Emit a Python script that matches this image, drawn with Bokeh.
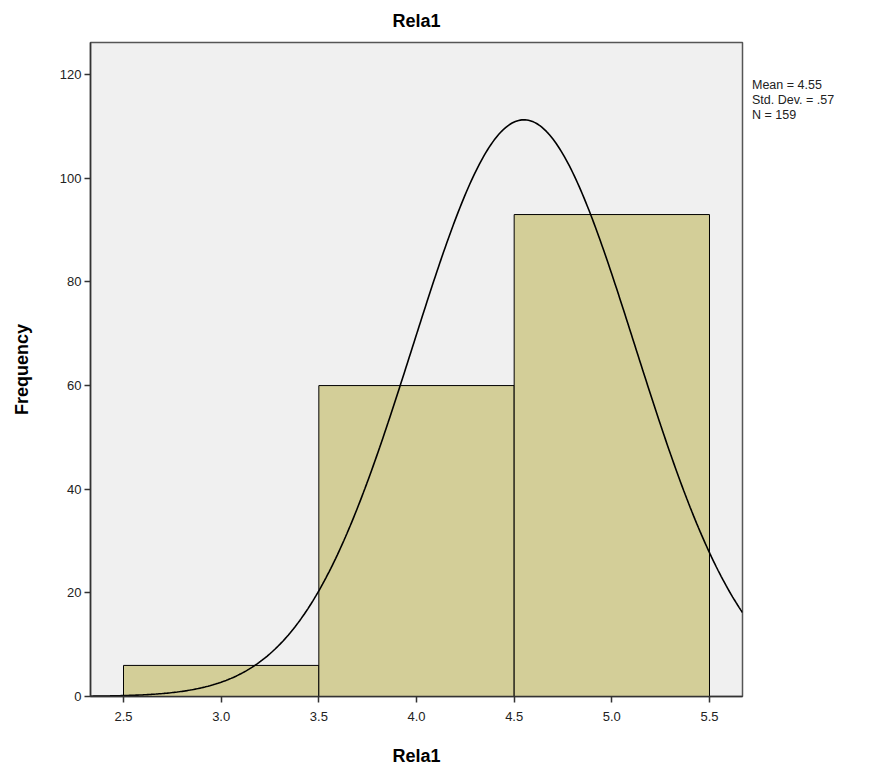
import numpy as np
from bokeh.plotting import figure
from bokeh.models import Range1d, FixedTicker, PrintfTickFormatter, Legend, LegendItem
from bokeh.embed import file_html
from bokeh.resources import INLINE

# data
bin_left = [2.5, 3.5, 4.5]
bin_right = [3.5, 4.5, 5.5]
counts = [6, 60, 93]
x_ticks = [2.5, 3.0, 3.5, 4.0, 4.5, 5.0, 5.5]
y_ticks = [0, 20, 40, 60, 80, 100, 120]
mean_val = 4.55
sd_val = 0.57
n_val = 159
bin_width = 1.0
stats = ["Mean = 4.55", "Std. Dev. = .57", "N = 159"]

X0, X1 = 2.331, 5.669
Y0, Y1 = 0, 126.2

p = figure(width=871, height=771, frame_width=652, frame_height=654,
           output_backend="svg", toolbar_location=None,
           x_range=Range1d(X0, X1), y_range=Range1d(Y0, Y1),
           min_border_left=90, min_border_right=129, min_border_top=42, min_border_bottom=75)

p.background_fill_color = "#f0f0f0"
p.border_fill_color = "white"
p.outline_line_color = "#555555"
p.outline_line_width = 1.5
p.xgrid.visible = False
p.ygrid.visible = False

p.quad(left=bin_left, right=bin_right, bottom=0, top=counts,
       fill_color="#d3ce98", line_color="black", line_width=1)

xs = np.linspace(X0, X1, 400)
ys = n_val * bin_width * np.exp(-0.5 * ((xs - mean_val) / sd_val) ** 2) / (sd_val * np.sqrt(2 * np.pi))
p.line(xs, ys, line_color="black", line_width=1.6)

font = "Liberation Sans"
p.title.text = "Rela1"
p.title.align = "center"
p.title.vertical_align = "top"
p.title.text_font = font
p.title.text_font_size = "18px"
p.title.text_font_style = "bold"
p.title.text_color = "black"
p.title.standoff = 19

for ax in (p.xaxis[0], p.yaxis[0]):
    ax.axis_line_color = "#333333"
    ax.axis_line_width = 1.5
    ax.major_tick_out = 6
    ax.major_tick_in = 0
    ax.minor_tick_line_color = None
    ax.major_tick_line_color = "#333333"
    ax.major_tick_line_width = 1.5
    ax.major_label_text_font = font
    ax.major_label_text_font_size = "13px"
    ax.major_label_text_color = "#222222"
    ax.axis_label_text_font = font
    ax.axis_label_text_font_size = "18px"
    ax.axis_label_text_font_style = "bold"
    ax.axis_label_text_color = "black"

p.xaxis[0].ticker = FixedTicker(ticks=x_ticks)
p.xaxis[0].formatter = PrintfTickFormatter(format="%.1f")
p.yaxis[0].ticker = FixedTicker(ticks=y_ticks)
p.xaxis[0].axis_label = "Rela1"
p.yaxis[0].axis_label = "Frequency"
p.xaxis[0].major_label_standoff = 9
p.xaxis[0].axis_label_standoff = 22
p.yaxis[0].major_label_standoff = 3
p.yaxis[0].axis_label_standoff = 25

# statistics block drawn as a legend with invisible glyphs, outside the frame
dummy = p.scatter(x=[], y=[], size=0, fill_alpha=0, line_alpha=0)
items = [LegendItem(label=s, renderers=[dummy]) for s in stats]
leg = Legend(items=items, location=(10, 654 - 32 - 48), orientation="vertical",
             glyph_width=0, glyph_height=15, label_standoff=0, label_height=15,
             spacing=0, padding=2, margin=0,
             label_text_font=font, label_text_font_size="12.5px", label_text_color="#222222",
             border_line_color=None, background_fill_alpha=0)
p.add_layout(leg, "right")

open("out.html", "w").write(file_html(p, INLINE))
